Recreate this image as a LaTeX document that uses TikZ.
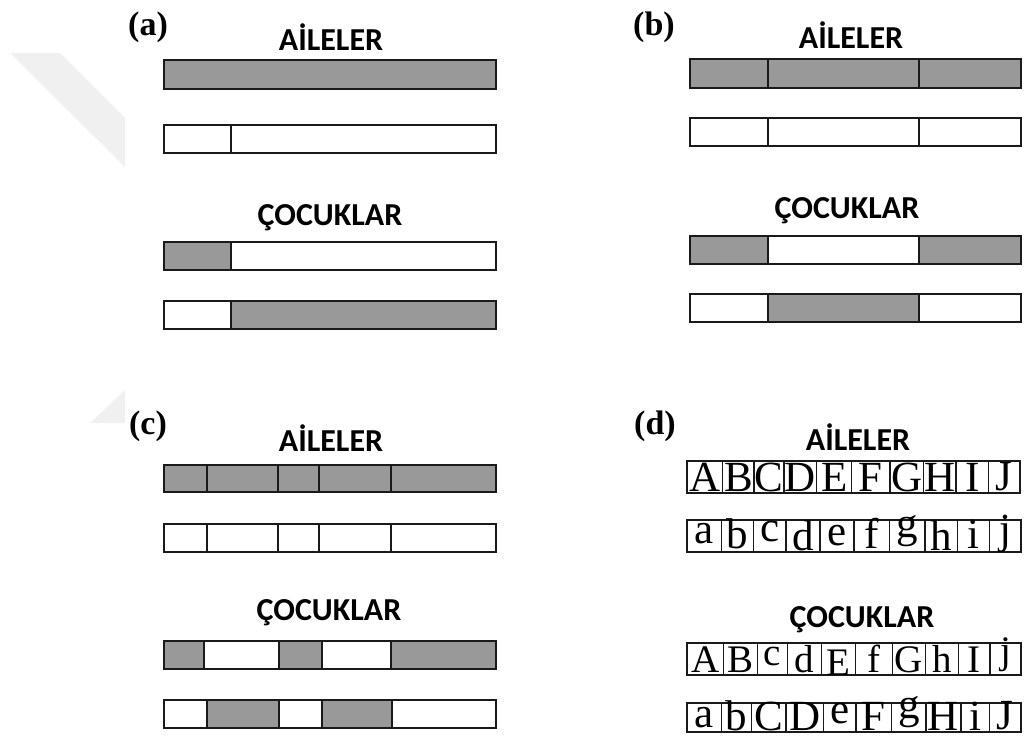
\documentclass[tikz,border=0pt]{standalone}
\usepackage{fontspec}
\setmainfont{Liberation Serif}
\newfontfamily\titlefont{Carlito}
\definecolor{barGray}{HTML}{999999}
\definecolor{edge}{HTML}{1A1A1A}
\definecolor{ghost}{HTML}{F0F0F0}

\tikzset{
  heading/.style={font=\titlefont\bfseries\fontsize{32}{32}\selectfont, inner sep=0, anchor=base},
  panel/.style={font=\bfseries\fontsize{34}{34}\selectfont, inner sep=0, anchor=base},
  seg/.style={draw=edge, line width=1.7pt},
  letterbox/.style={draw=edge, line width=1.5pt},
  glyph/.style={inner sep=0, anchor=base},
}

% one horizontal bar: top, bottom, list of left/right/fill
\newcommand\segrow[3]{%
  \foreach \xa/\xb/\fc in {#3} {\path[seg, fill=\fc] (\xa,#1) rectangle (\xb,#2);}%
}
% one row of lettered cells: top, bottom, row tag, font size, list of left/right/letter/baseline
\newcommand\letterrow[5]{%
  \foreach \xa/\xb/\ch/\bl in {#5} {%
    \path[letterbox, fill=white] (\xa,#1) rectangle (\xb,#2);%
    \node[glyph, font=\fontsize{#4}{#4}\selectfont] (#3\ch) at ({(\xa+\xb)/2},\bl) {\ch};%
  }%
}

\begin{document}
\begin{tikzpicture}[x=1pt,y=-1pt]
\useasboundingbox (0,0) rectangle (1024,736);

% faint background marks
\fill[ghost] (10,53) -- (60,53) -- (125,118) -- (125,167) -- cycle;
\fill[ghost] (90,423) -- (125,390) -- (125,423) -- cycle;

% ---------- (a) ----------
\node[panel] (la) at (148,35) {(a)};
\node[heading] (a-ai) at (331,50) {AİLELER};
\segrow{60}{89}{164/496/barGray}
\segrow{125}{153}{164/231/white, 231/496/white}
\node[heading] (a-co) at (330,225) {ÇOCUKLAR};
\segrow{242}{270}{164/231/barGray, 231/496/white}
\segrow{301}{329}{164/231/white, 231/496/barGray}

% ---------- (b) ----------
\node[panel] (lb) at (654,35) {(b)};
\node[heading] (b-ai) at (851,48) {AİLELER};
\segrow{59}{88}{690/768/barGray, 768/919/barGray, 919/1021/barGray}
\segrow{118}{146}{690/768/white, 768/919/white, 919/1021/white}
\node[heading] (b-co) at (847,218) {ÇOCUKLAR};
\segrow{236}{264}{690/768/barGray, 768/919/white, 919/1021/barGray}
\segrow{294}{322}{690/768/white, 768/919/barGray, 919/1021/white}

% ---------- (c) ----------
\node[panel] (lc) at (148,434) {(c)};
\node[heading] (c-ai) at (331,451) {AİLELER};
\segrow{465}{492}{164/207/barGray, 207/278/barGray, 278/319/barGray, 319/391/barGray, 391/496/barGray}
\segrow{524}{552}{164/207/white, 207/278/white, 278/319/white, 319/391/white, 391/496/white}
\node[heading] (c-co) at (329,620) {ÇOCUKLAR};
\segrow{641}{669}{164/204/barGray, 204/279/white, 279/322/barGray, 322/391/white, 391/496/barGray}
\segrow{700}{728}{164/207/white, 207/279/barGray, 279/322/white, 322/392/barGray, 392/496/white}

% ---------- (d) ----------
\node[panel] (ld) at (655,434) {(d)};
\node[heading] (d-ai) at (858,450) {AİLELER};
\letterrow{461}{493}{p}{43}{687/722.7/A/491, 722.7/754/B/491, 754/784/C/491, 784/816.7/D/491,
  816.7/851.7/E/491, 851.7/890/F/491, 890/923.3/G/491, 923.3/956/H/491,
  956/988.3/I/491, 988.3/1020/J/490}
\letterrow{520}{552}{q}{43}{687/721.7/a/543, 721.7/753.3/b/548, 753.3/786/c/541, 786/820/d/550,
  820/854/e/545, 854/889.3/f/548, 889.3/925/g/537, 925/957.3/h/550,
  957.3/989.3/i/548, 989.3/1021/j/543}
\node[heading] (d-co) at (862,627) {ÇOCUKLAR};
\letterrow{643}{675}{r}{39}{687/723.3/A/672, 723.3/757.3/B/672, 757.3/787.3/c/665, 787.3/821.7/d/672,
  821.7/855.7/E/675, 855.7/892.3/f/672, 892.3/925.7/G/672, 925.7/958.3/h/672,
  958.3/990/I/672, 990/1021/j/663}
\letterrow{703}{732}{s}{43}{687/721.7/a/727, 721.7/751.7/b/730, 751.7/786/C/730, 786/823.3/D/730,
  823.3/856/e/723, 856/891.7/F/730, 891.7/926/g/718, 926/961/H/730,
  961/989.3/i/730, 989.3/1021/J/729}
\end{tikzpicture}
\end{document}
